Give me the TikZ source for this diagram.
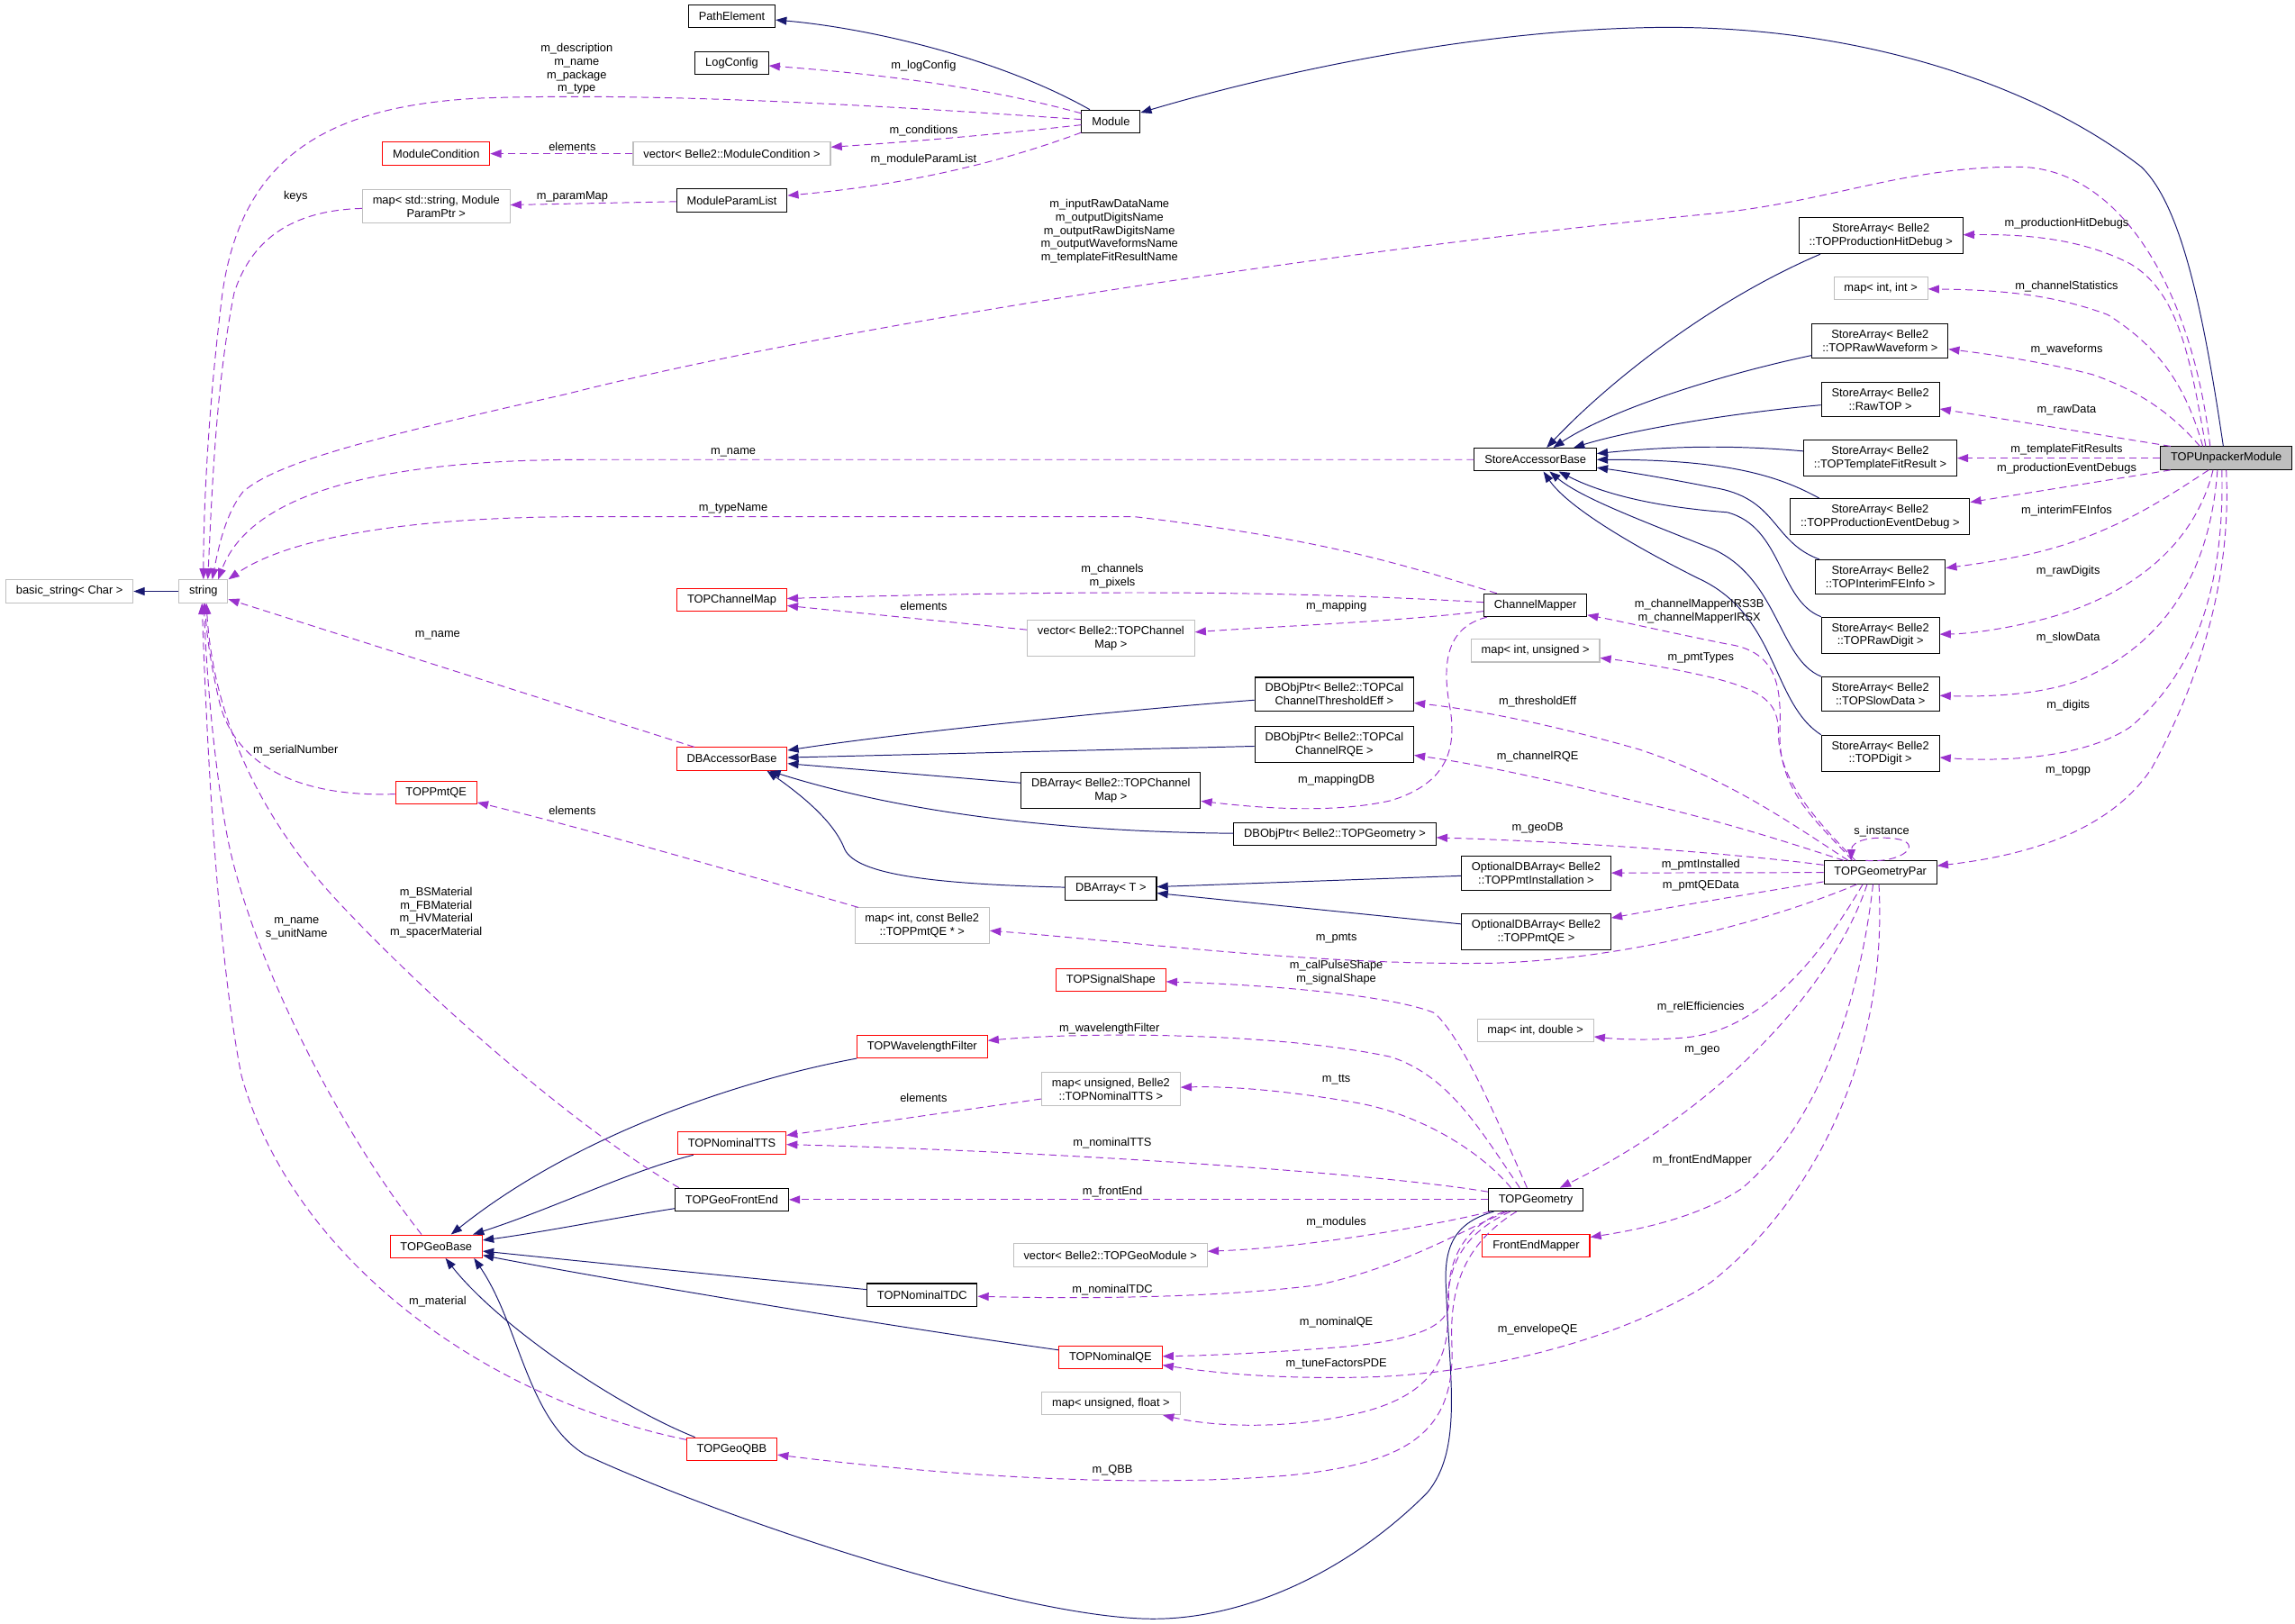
\documentclass[tikz,border=0pt]{standalone}
\usepackage{fontspec}
\setmainfont{Liberation Sans}
\usetikzlibrary{arrows.meta}
\definecolor{inhblue}{HTML}{191970}
\definecolor{mempurple}{HTML}{9A32CD}
\definecolor{boxgrey}{HTML}{BFBFBF}
\begin{document}
\begin{tikzpicture}[x=1pt,y=-1pt,>={Triangle[length=7.5pt,width=5.5pt]},
        font=\fontsize{7.9}{9.1}\selectfont,
        class node/.style={draw=black,line width=0.65pt,fill=white,align=center,inner xsep=7pt,inner ysep=4.1pt,minimum height=15.6pt},
        ext node/.style={class node,draw=boxgrey},
        trunc node/.style={class node,draw=red},
        main node/.style={class node,fill=boxgrey},
        inherit edge/.style={->,draw=inhblue,line width=0.6pt},
        member edge/.style={->,draw=mempurple,line width=0.6pt,dash pattern=on 5pt off 3pt},
        label node/.style={inner sep=0pt,align=center}]
    \useasboundingbox (0,0) rectangle (1568,1109);

    \node[class node] (pathel) at (500,11) {PathElement};
    \node[class node] (logcfg) at (500,43) {LogConfig};
    \node[trunc node] (modcond) at (298,105) {ModuleCondition};
    \node[ext node] (vecmc) at (500,105) {vector< Belle2::ModuleCondition >};
    \node[ext node] (mapsp) at (298,141) {map< std::string, Module\\ParamPtr >};
    \node[class node] (mpl) at (500,137) {ModuleParamList};
    \node[class node] (mod) at (759,83) {Module};
    \node[ext node] (str) at (139,404) {string};
    \node[ext node] (bstr) at (47.5,404) {basic\_string< Char >};
    \node[class node] (hitdbg) at (1285,161) {StoreArray< Belle2\\::TOPProductionHitDebug >};
    \node[ext node] (mapii) at (1285,197) {map< int, int >};
    \node[class node] (rawwf) at (1284.5,233) {StoreArray< Belle2\\::TOPRawWaveform >};
    \node[class node] (rawtop) at (1284.7,273) {StoreArray< Belle2\\::RawTOP >};
    \node[class node] (tfit) at (1284.6,313) {StoreArray< Belle2\\::TOPTemplateFitResult >};
    \node[class node] (evdbg) at (1284.5,353) {StoreArray< Belle2\\::TOPProductionEventDebug >};
    \node[class node] (interim) at (1284.7,394) {StoreArray< Belle2\\::TOPInterimFEInfo >};
    \node[class node] (rawdig) at (1284.7,434) {StoreArray< Belle2\\::TOPRawDigit >};
    \node[class node] (slow) at (1284.7,474) {StoreArray< Belle2\\::TOPSlowData >};
    \node[class node] (digit) at (1284.7,514.6) {StoreArray< Belle2\\::TOPDigit >};
    \node[main node] (unp) at (1521,313) {TOPUnpackerModule};
    \node[class node] (sab) at (1049,314) {StoreAccessorBase};
    \node[trunc node] (tcmap) at (500,410) {TOPChannelMap};
    \node[ext node] (veccm) at (759,436) {vector< Belle2::TOPChannel\\Map >};
    \node[trunc node] (dbab) at (500,518.5) {DBAccessorBase};
    \node[class node] (dbarrcm) at (759,540) {DBArray< Belle2::TOPChannel\\Map >};
    \node[class node] (dbarrt) at (759,607) {DBArray< T >};
    \node[ext node] (mappmtqe) at (630,632.5) {map< int, const Belle2\\::TOPPmtQE * >};
    \node[trunc node] (tpmtqe) at (298,541.5) {TOPPmtQE};
    \node[trunc node] (sigshape) at (759,669.5) {TOPSignalShape};
    \node[trunc node] (wlf) at (630,715) {TOPWavelengthFilter};
    \node[ext node] (mapntts) at (759,744) {map< unsigned, Belle2\\::TOPNominalTTS >};
    \node[class node] (chmap) at (1049,413.5) {ChannelMapper};
    \node[ext node] (mapiu) at (1049,444.5) {map< int, unsigned >};
    \node[class node] (thr) at (911.6,474.3) {DBObjPtr< Belle2::TOPCal\\ChannelThresholdEff >};
    \node[class node] (rqe) at (911.6,508.5) {DBObjPtr< Belle2::TOPCal\\ChannelRQE >};
    \node[class node] (dbgeo) at (912,570) {DBObjPtr< Belle2::TOPGeometry >};
    \node[class node] (optinst) at (1049.5,596.5) {OptionalDBArray< Belle2\\::TOPPmtInstallation >};
    \node[class node] (optqe) at (1049.5,636.5) {OptionalDBArray< Belle2\\::TOPPmtQE >};
    \node[ext node] (mapid) at (1049,704) {map< int, double >};
    \node[class node] (geopar) at (1284.7,596) {TOPGeometryPar};
    \node[trunc node] (geobase) at (298,851.5) {TOPGeoBase};
    \node[trunc node] (ntts) at (500,781) {TOPNominalTTS};
    \node[class node] (gfe) at (500,819.6) {TOPGeoFrontEnd};
    \node[ext node] (vecgm) at (758.6,857.5) {vector< Belle2::TOPGeoModule >};
    \node[class node] (ntdc) at (630,884.7) {TOPNominalTDC};
    \node[trunc node] (nqe) at (758.7,927.3) {TOPNominalQE};
    \node[ext node] (mapuf) at (759,958.7) {map< unsigned, float >};
    \node[trunc node] (qbb) at (500,990) {TOPGeoQBB};
    \node[class node] (geom) at (1049.3,819.6) {TOPGeometry};
    \node[trunc node] (fem) at (1049.5,851) {FrontEndMapper};

    \draw[inherit edge] (mod) .. controls (681,39) and (592,19) .. (pathel);
    \draw[inherit edge] ([xshift=-2pt]unp.north) .. controls (1505,210) and (1490,140) .. (1463,114)
        .. controls (1380,50) and (1250,15) .. (1120,19) .. controls (1000,22) and (870,50) .. (mod);
    \draw[inherit edge] (str) -- (bstr);
    \draw[inherit edge] ([xshift=15pt]hitdbg.south west) .. controls (1170,205) and (1100,260) .. (sab);
    \draw[inherit edge] (rawwf) .. controls (1175,256) and (1100,280) .. (sab);
    \draw[inherit edge] (rawtop) .. controls (1175,283) and (1110,295) .. (sab);
    \draw[inherit edge] (tfit) .. controls (1175,303) and (1130,306) .. (sab);
    \draw[inherit edge] ([xshift=20pt]evdbg.north west) .. controls (1215,325) and (1180,314) .. (sab);
    \draw[inherit edge] ([xshift=3pt]interim.north west) .. controls (1210,370) and (1215,340) .. (1170,333)
        .. controls (1140,327) and (1110,322) .. (sab);
    \draw[inherit edge] (rawdig.north west) .. controls (1215,410) and (1218,360) .. (1180,350)
        .. controls (1140,347) and (1100,340) .. (sab);
    \draw[inherit edge] (slow.north west) .. controls (1215,450) and (1215,395) .. (1170,375)
        .. controls (1120,355) and (1080,340) .. (sab);
    \draw[inherit edge] (digit.north west) .. controls (1210,480) and (1215,420) .. (1160,395)
        .. controls (1110,370) and (1070,345) .. (sab);
    \draw[inherit edge] (thr) .. controls (780,484) and (620,500) .. (dbab);
    \draw[inherit edge] (rqe) -- (dbab);
    \draw[inherit edge] (dbarrcm) -- (dbab);
    \draw[inherit edge] (dbgeo) .. controls (700,568) and (600,550) .. (dbab);
    \draw[inherit edge] (dbarrt) .. controls (640,604) and (585,598) .. (577,580)
        .. controls (570,562) and (550,545) .. ([xshift=24pt]dbab.south);
    \draw[inherit edge] (optinst) -- (dbarrt);
    \draw[inherit edge] (optqe) -- (dbarrt);
    \draw[inherit edge] (wlf) .. controls (520,735) and (400,770) .. (geobase);
    \draw[inherit edge] ([xshift=11pt]ntts.south west) .. controls (430,800) and (380,825) .. (geobase);
    \draw[inherit edge] (gfe) .. controls (420,832) and (370,842) .. (geobase);
    \draw[inherit edge] (ntdc) .. controls (500,872) and (400,862) .. (geobase);
    \draw[inherit edge] (nqe) .. controls (600,905) and (420,875) .. (geobase);
    \draw[inherit edge] ([xshift=6pt]qbb.north west) .. controls (420,960) and (340,905) .. (geobase);
    \draw[inherit edge] (geom) .. controls (995,835) and (986,850) .. (988,880)
        .. controls (990,940) and (1000,990) .. (975,1020)
        .. controls (920,1075) and (850,1106) .. (788,1106)
        .. controls (700,1106) and (500,1040) .. (400,994)
        .. controls (360,970) and (355,905) .. ([xshift=-6pt]geobase.south east);

    \draw[member edge] (mod) .. controls (668,58) and (592,50) .. (logcfg)
        node[label node, at={(631,45)}] (l1) {m\_logConfig};
    \draw[member edge] (mod) .. controls (600,72) and (450,63) .. (330,67)
        .. controls (220,72) and (165,110) .. (152,200)
        .. controls (142,280) and (139,350) .. (str.north)
        node[label node, at={(394,47)}] (l2) {m\_description\\m\_name\\m\_package\\m\_type};
    \draw[member edge] (mod) .. controls (680,92) and (620,97) .. (vecmc)
        node[label node, at={(631,89)}] (l3) {m\_conditions};
    \draw[member edge] (mod) .. controls (681,112) and (617,126.5) .. (mpl)
        node[label node, at={(631,109)}] (l4) {m\_moduleParamList};
    \draw[member edge] (vecmc) -- (modcond)
        node[label node, at={(391,100)}] (l5) {elements};
    \draw[member edge] (mpl) -- (mapsp)
        node[label node, at={(391,134.5)}] (l6) {m\_paramMap};
    \draw[member edge] (mapsp) .. controls (204,143.6) and (173,160) .. (160,200)
        .. controls (148,260) and (145,330) .. ([xshift=3pt]str.north)
        node[label node, at={(202,134)}] (l7) {keys};
    \draw[member edge] ([xshift=-11pt]unp.north) .. controls (1498,200) and (1450,114) .. (1378,114)
        .. controls (1300,114) and (1250,138) .. (1169,146)
        .. controls (900,172) and (560,225) .. (388,269)
        .. controls (260,298) and (190,315) .. (166,336)
        .. controls (155,350) and (150,370) .. ([xshift=6pt]str.north)
        node[label node, at={(758,158)}] (l8) {m\_inputRawDataName\\m\_outputDigitsName\\m\_outputRawDigitsName\\m\_outputWaveformsName\\m\_templateFitResultName};
    \draw[member edge] ([xshift=-14pt]unp.north) .. controls (1497,250) and (1490,200) .. (1455,180)
        .. controls (1420,162) and (1380,160) .. (hitdbg)
        node[label node, at={(1412,153)}] (l9) {m\_productionHitDebugs};
    \draw[member edge] ([xshift=-16pt]unp.north) .. controls (1495,270) and (1480,240) .. (1440,215)
        .. controls (1400,200) and (1360,198) .. (mapii)
        node[label node, at={(1412,196)}] (l10) {m\_channelStatistics};
    \draw[member edge] ([xshift=-18pt]unp.north) .. controls (1490,290) and (1470,270) .. (1430,256)
        .. controls (1400,248) and (1360,242) .. (rawwf)
        node[label node, at={(1412,239)}] (l11) {m\_waveforms};
    \draw[member edge] ([xshift=-38pt]unp.north) .. controls (1440,298) and (1380,288) .. (rawtop)
        node[label node, at={(1412,280)}] (l12) {m\_rawData};
    \draw[member edge] (unp) -- (tfit)
        node[label node, at={(1412,307)}] (l13) {m\_templateFitResults};
    \draw[member edge] ([xshift=-38pt]unp.south) -- (evdbg)
        node[label node, at={(1412,320)}] (l14) {m\_productionEventDebugs};
    \draw[member edge] ([xshift=-12pt]unp.south) .. controls (1480,340) and (1440,368) .. (1380,380)
        .. controls (1360,384) and (1345,386) .. (interim)
        node[label node, at={(1412,349)}] (l15) {m\_interimFEInfos};
    \draw[member edge] ([xshift=-9pt]unp.south) .. controls (1500,370) and (1460,405) .. (1400,422)
        .. controls (1370,430) and (1345,433) .. (rawdig)
        node[label node, at={(1413,390)}] (l16) {m\_rawDigits};
    \draw[member edge] ([xshift=-6pt]unp.south) .. controls (1510,390) and (1480,440) .. (1420,465)
        .. controls (1390,476) and (1350,476) .. (slow)
        node[label node, at={(1413,436)}] (l17) {m\_slowData};
    \draw[member edge] ([xshift=-3pt]unp.south) .. controls (1520,400) and (1500,460) .. (1455,497)
        .. controls (1420,520) and (1360,520) .. (digit)
        node[label node, at={(1413,482)}] (l18) {m\_digits};
    \draw[member edge] (unp.south) .. controls (1525,400) and (1500,470) .. (1470,525)
        .. controls (1440,570) and (1380,585) .. (geopar)
        node[label node, at={(1413,526.6)}] (l19) {m\_topgp};
    \draw[member edge] (sab) -- (400,314) .. controls (250,314) and (170,340) .. ([xshift=10pt]str.north)
        node[label node, at={(501,309)}] (l20) {m\_name};
    \draw[member edge] (chmap) .. controls (950,383) and (900,368) .. (775,353) -- (400,353)
        .. controls (260,353) and (190,372) .. (str.north east)
        node[label node, at={(501,347.5)}] (l21) {m\_typeName};
    \draw[member edge] (dbab) -- (str)
        node[label node, at={(299,434)}] (l22) {m\_name};
    \draw[member edge] (tpmtqe) .. controls (200,545) and (160,520) .. (150,480)
        .. controls (143,450) and (141,430) .. ([xshift=1pt]str.south)
        node[label node, at={(202,512.6)}] (l23) {m\_serialNumber};
    \draw[member edge] ([xshift=-10pt]geobase.north) .. controls (230,770) and (170,650) .. (155,570)
        .. controls (146,520) and (141,460) .. (str)
        node[label node, at={(202.6,634.5)}] (l24) {m\_name\\s\_unitName};
    \draw[member edge] ([xshift=3pt]gfe.north west) .. controls (400,775) and (300,690) .. (230,615)
        .. controls (170,550) and (145,480) .. ([xshift=2pt]str.south)
        node[label node, at={(298,623.5)}] (l25) {m\_BSMaterial\\m\_FBMaterial\\m\_HVMaterial\\m\_spacerMaterial};
    \draw[member edge] (qbb) .. controls (330,955) and (200,860) .. (165,735)
        .. controls (148,650) and (141,500) .. ([xshift=-1pt]str.south)
        node[label node, at={(299,889)}] (l26) {m\_material};
    \draw[member edge] (chmap) .. controls (900,405) and (775,402) .. (tcmap)
        node[label node, at={(760,393.5)}] (l27) {m\_channels\\m\_pixels};
    \draw[member edge] (chmap) .. controls (950,425) and (870,428) .. (veccm)
        node[label node, at={(913,414)}] (l28) {m\_mapping};
    \draw[member edge] (veccm) -- (tcmap)
        node[label node, at={(631,414)}] (l29) {elements};
    \draw[member edge] (chmap) .. controls (990,428) and (985,450) .. (990,480)
        .. controls (996,510) and (990,535) .. (950,547)
        .. controls (910,556) and (860,552) .. (dbarrcm)
        node[label node, at={(913,533)}] (l30) {m\_mappingDB};
    \draw[member edge] ([xshift=-19pt]geopar.north) .. controls (1240,560) and (1215,540) .. (1216,500)
        .. controls (1217,470) and (1215,445) .. (1180,440)
        .. controls (1140,432) and (1110,425) .. (chmap)
        node[label node, at={(1161,417.5)}] (l31) {m\_channelMapperIRS3B\\m\_channelMapperIRSX};
    \draw[member edge] ([xshift=-17pt]geopar.north) .. controls (1235,555) and (1215,530) .. (1215,500)
        .. controls (1215,480) and (1205,472) .. (1170,463)
        .. controls (1140,456) and (1115,452) .. (mapiu)
        node[label node, at={(1162,449.5)}] (l32) {m\_pmtTypes};
    \draw[member edge] ([xshift=-22pt]geopar.north) .. controls (1220,560) and (1180,532) .. (1120,512)
        .. controls (1060,495) and (1010,485) .. (thr)
        node[label node, at={(1050.5,479.5)}] (l33) {m\_thresholdEff};
    \draw[member edge] ([xshift=-25pt]geopar.north) .. controls (1220,575) and (1180,562) .. (1120,548)
        .. controls (1060,533) and (1010,522) .. (rqe)
        node[label node, at={(1050.5,517)}] (l34) {m\_channelRQE};
    \draw[member edge] (geopar) .. controls (1200,585) and (1100,576) .. (dbgeo)
        node[label node, at={(1050.5,565.5)}] (l35) {m\_geoDB};
    \draw[member edge] (geopar) -- (optinst)
        node[label node, at={(1162,591)}] (l36) {m\_pmtInstalled};
    \draw[member edge] (geopar) .. controls (1200,610) and (1140,620) .. (optqe)
        node[label node, at={(1162,605)}] (l37) {m\_pmtQEData};
    \draw[member edge] ([xshift=-16pt]geopar.south) .. controls (1220,625) and (1120,655) .. (1020,658)
        .. controls (900,660) and (760,642) .. (mappmtqe)
        node[label node, at={(913,641)}] (l38) {m\_pmts};
    \draw[member edge] ([xshift=-12pt]geopar.south) .. controls (1240,660) and (1200,705) .. (1150,709)
        .. controls (1125,711) and (1105,710) .. (mapid)
        node[label node, at={(1162,688)}] (l39) {m\_relEfficiencies};
    \draw[member edge] ([xshift=-9pt]geopar.south) .. controls (1250,680) and (1170,760) .. (geom)
        node[label node, at={(1163,717.6)}] (l40) {m\_geo};
    \draw[member edge] ([xshift=-5pt]geopar.south) .. controls (1270,690) and (1240,770) .. (1190,812)
        .. controls (1160,832) and (1120,840) .. (fem)
        node[label node, at={(1163,793)}] (l41) {m\_frontEndMapper};
    \draw[member edge] ([xshift=-1pt]geopar.south) .. controls (1290,720) and (1240,820) .. (1169,876)
        .. controls (1100,920) and (1000,940) .. (928,941)
        .. controls (870,942) and (830,938) .. (nqe)
        node[label node, at={(1050.5,908.6)}] (l42) {m\_envelopeQE};
    \draw[member edge] ([xshift=-10pt]geopar.north) .. controls (1300,590) and (1315,576) .. (1295,573)
        .. controls (1280,571) and (1265,574) .. ([xshift=-20pt]geopar.north)
        node[label node, at={(1285.6,568)}] (l43) {s\_instance};
    \draw[member edge] ([xshift=-6pt]geom.north) .. controls (1025,770) and (1000,710) .. (980,692)
        .. controls (950,680) and (870,673) .. (sigshape)
        node[label node, at={(913,664.5)}] (l44) {m\_calPulseShape\\m\_signalShape};
    \draw[member edge] ([xshift=-11pt]geom.north) .. controls (1010,770) and (990,735) .. (950,722)
        .. controls (870,705) and (740,705) .. (wlf)
        node[label node, at={(758,703)}] (l45) {m\_wavelengthFilter};
    \draw[member edge] ([xshift=-17pt]geom.north) .. controls (1010,785) and (970,762) .. (930,754)
        .. controls (880,745) and (840,742) .. (mapntts)
        node[label node, at={(913,737.6)}] (l46) {m\_tts};
    \draw[member edge] (geom) .. controls (930,800) and (700,786) .. (ntts)
        node[label node, at={(760,781)}] (l47) {m\_nominalTTS};
    \draw[member edge] (geom) -- (gfe)
        node[label node, at={(760,814.5)}] (l48) {m\_frontEnd};
    \draw[member edge] (geom) .. controls (990,835) and (900,852) .. (vecgm)
        node[label node, at={(913,835)}] (l49) {m\_modules};
    \draw[member edge] (geom) .. controls (1000,840) and (960,865) .. (900,878)
        .. controls (820,888) and (720,887) .. (ntdc)
        node[label node, at={(760,881)}] (l50) {m\_nominalTDC};
    \draw[member edge] (geom) .. controls (995,840) and (988,870) .. (990,890)
        .. controls (990,905) and (970,915) .. (920,920)
        .. controls (870,924) and (830,926) .. (nqe)
        node[label node, at={(913,903.5)}] (l51) {m\_nominalQE};
    \draw[member edge] (geom) .. controls (995,845) and (988,870) .. (989,900)
        .. controls (990,935) and (970,955) .. (930,965)
        .. controls (880,977) and (830,975) .. ([xshift=-12pt]mapuf.south east)
        node[label node, at={(913,931.7)}] (l52) {m\_tuneFactorsPDE};
    \draw[member edge] (geom) .. controls (1000,850) and (990,880) .. (992,920)
        .. controls (994,980) and (960,1000) .. (880,1008)
        .. controls (760,1018) and (620,1005) .. (qbb)
        node[label node, at={(760,1004.7)}] (l53) {m\_QBB};
    \draw[member edge] (mappmtqe) .. controls (500,595) and (400,566) .. (tpmtqe)
        node[label node, at={(391,554)}] (l54) {elements};
    \draw[member edge] (mapntts) -- (ntts)
        node[label node, at={(631,750)}] (l55) {elements};
\end{tikzpicture}
\end{document}
